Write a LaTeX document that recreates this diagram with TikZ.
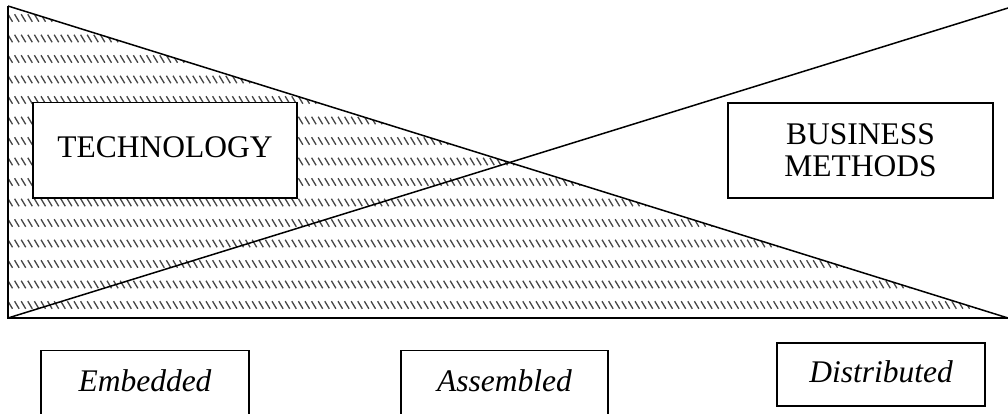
\documentclass[tikz,border=0pt]{standalone}
\usepackage{fontspec}
\setmainfont{Liberation Serif}
\begin{document}
\begin{tikzpicture}[x=1pt,y=-1pt,
  box/.style={draw,line width=1.5pt,fill=white,inner sep=0pt,font=\fontsize{31.5}{32}\selectfont},
  itbox/.style={box,font=\fontsize{31.5}{32}\selectfont\itshape},
  oneline/.style={text height=21pt,text depth=6pt},
  axisline/.style={line width=2pt},
  diag/.style={line width=1.5pt},
  hatch/.style={black!72,line width=1.3pt}]
\useasboundingbox (0,0) rectangle (1008,413);
\clip (0,0) rectangle (1008,413);
\coordinate (tl) at (8,6);
\coordinate (bl) at (8,318);
\coordinate (br) at (1008,318);
\coordinate (tr) at (1008,8);
% hatched triangle
\begin{scope}
  \clip (tl) -- (bl) -- (br) -- cycle;
  \foreach \k in {0,...,14}{
    \draw[hatch] \foreach \i in {0,...,151}{(8+\i*6.6, 18+\k*20.5-3.75) -- ++(4.5,7.5)};
  }
\end{scope}
% boxes
\node[box,oneline,minimum width=264pt,minimum height=95.5pt] (tech) at (165,150.4) {TECHNOLOGY};
\node[box,align=center,minimum width=265pt,minimum height=95pt] (bus) at (860.5,150.5) {BUSINESS\\METHODS};
\node[itbox,oneline,minimum width=208pt,minimum height=66pt] (emb) at (145,383.7) {Embedded};
\node[itbox,oneline,minimum width=207pt,minimum height=66pt] (asm) at (504.5,383.7) {Assembled};
\node[itbox,oneline,minimum width=208pt,minimum height=63pt] (dist) at (881,374.5) {Distributed};
% lines
\draw[axisline] (tl) -- (bl) -- (br);
\draw[diag] (tl) -- (br);
\draw[diag] (bl) -- (tr);
\end{tikzpicture}
\end{document}
